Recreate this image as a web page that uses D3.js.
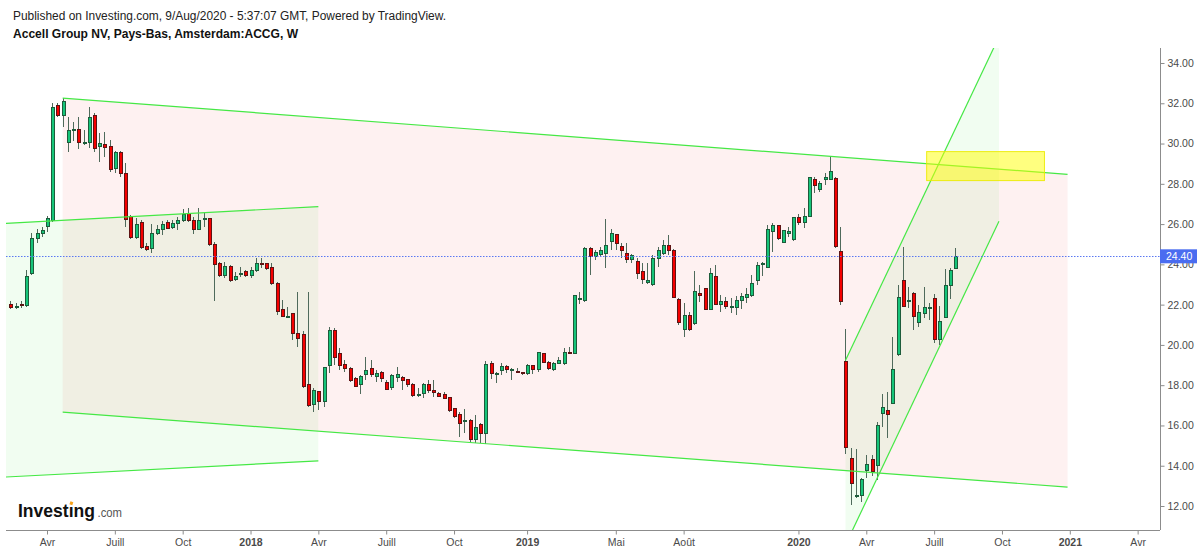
<!DOCTYPE html>
<html><head><meta charset="utf-8">
<script src="https://cdn.jsdelivr.net/npm/d3@7"></script>
<style>html,body{margin:0;padding:0;background:#fff;}svg{display:block;font-family:"Liberation Sans",Arial,sans-serif;}</style>
</head><body><svg id="c" width="1200" height="551"></svg>
<script>
// ---------- data ----------
const firstWeek = "2017-02-13"; // weekly bars (Mondays)
const open = [22.02,21.87,22.02,21.98,23.56,25.29,25.54,25.87,26.2,31.88,
31.37,30.04,30.69,30.72,30.05,30.06,31.4,29.85,29.93,29.85,
28.77,29.55,28.49,26.37,25.33,26.07,24.91,24.8,25.54,25.74,
26.07,25.82,26.04,26.2,26.54,26.2,25.74,26.27,26.29,25.01,
24.05,23.47,23.89,23.23,23.55,23.64,23.47,23.72,24.05,24.02,
23.85,23.06,21.77,21.40,21.54,20.58,20.5,18.05,17.05,17.68,
17.19,18.96,20.74,19.55,19.02,18.81,18.34,18.01,18.51,18.81,
18.43,18.64,18.13,17.9,18.39,18.38,18.26,18.05,17.51,17.6,
18.01,17.76,17.57,17.52,17.4,16.82,16.56,16.22,16.27,15.31,
16.03,15.61,19.09,18.58,18.72,18.92,18.75,18.67,18.64,18.59,
18.97,18.79,19.55,19.12,18.79,19.09,19.06,19.64,19.59,22.26,
22.2,24.77,24.39,24.47,24.52,25.13,25.46,24.91,24.55,24.25,
24.13,23.67,23.1,22.98,24.3,24.55,24.96,24.71,22.26,20.78,
21.44,21.04,22.56,22.81,21.77,23.39,22.03,22.15,21.89,21.85,
22.2,22.37,22.43,23.19,23.97,23.85,25.63,25.91,25.08,25.54,
25.21,26.34,26.07,26.4,28.19,27.7,28.22,28.22,28.27,24.63,
19.2,14.37,12.49,12.5,13.74,14.32,13.99,16.61,16.74,17.1,
19.53,23.18,22.19,22.53,21.11,21.57,21.86,22.32,20.28,21.37,
22.93,23.8];
const high = [22.18,22.07,22.2,23.72,25.54,25.74,25.87,26.4,32.03,32.03,
32.25,31.3,31.09,31.3,30.67,31.8,31.5,30.51,30.59,30.18,
29.63,29.63,29.02,26.45,26.29,26.2,25.05,26.0,25.96,26.15,
26.2,26.2,26.37,26.73,26.78,26.37,26.78,26.54,26.32,25.13,
24.14,24.14,23.97,23.64,23.89,23.72,23.89,24.3,24.3,24.09,
24.05,23.14,22.23,21.9,21.57,22.65,20.71,22.65,17.85,17.73,
18.92,20.88,20.83,19.83,19.25,18.92,18.43,18.51,19.42,19.25,
18.76,18.72,18.26,18.56,18.92,18.46,18.29,18.1,17.85,18.1,
18.26,18.26,17.68,17.68,17.43,16.85,16.69,16.8,16.31,16.52,
16.14,19.22,19.22,18.67,19.09,19.01,18.84,18.87,18.67,19.06,
19.01,19.67,19.59,19.22,19.17,19.39,19.83,19.92,22.48,22.65,
24.88,24.88,24.72,24.85,26.24,25.74,25.51,25.05,25.05,24.52,
24.3,24.05,24.05,24.47,24.85,25.21,25.46,24.75,22.31,22.07,
21.65,23.67,22.98,22.85,23.81,23.97,22.48,22.4,22.31,22.43,
22.6,22.81,23.47,24.14,24.14,25.96,26.04,25.96,25.71,25.87,
26.37,26.5,26.78,28.36,28.32,28.16,28.52,29.38,28.32,25.84,
20.78,14.87,14.82,13.38,14.54,14.54,16.19,17.57,17.68,20.38,
22.98,24.85,22.9,22.65,21.98,22.86,22.07,22.53,21.93,23.75,
23.81,24.8];
const low = [21.79,21.79,21.82,21.9,23.47,25.05,25.38,25.63,26.12,31.34,
30.84,29.6,30.14,29.71,29.93,29.76,29.6,29.1,29.35,28.6,
28.52,28.32,25.87,25.24,25.24,24.75,24.68,24.58,25.46,25.46,
25.74,25.74,25.71,26.12,26.12,25.49,25.71,25.87,24.91,22.18,
23.39,23.31,23.14,23.19,23.36,23.39,23.31,23.64,23.81,23.72,
22.98,21.49,21.37,21.35,20.25,19.92,17.85,16.94,16.69,16.77,
16.94,18.59,19.01,18.76,18.67,18.18,17.9,17.57,18.26,18.43,
18.18,18.18,17.76,17.76,18.18,17.76,17.93,17.43,17.43,17.35,
17.6,17.4,17.4,17.3,16.69,16.36,15.45,15.61,15.2,15.15,
15.15,15.08,18.29,18.1,18.51,18.59,18.26,18.59,18.51,18.51,
18.56,18.67,19.09,18.76,18.72,19.06,19.01,19.57,19.55,22.03,
22.15,23.47,24.22,24.38,23.8,24.72,24.72,24.3,24.09,24.05,
23.26,23.03,23.03,22.93,23.85,24.47,24.47,22.31,20.99,20.41,
20.71,20.99,22.15,21.74,21.74,21.98,21.65,21.77,21.57,21.49,
21.77,22.1,22.37,22.98,23.42,23.8,24.63,25.21,25.05,25.34,
25.18,25.96,25.79,26.34,27.56,27.61,27.94,28.19,24.8,21.98,
14.58,12.05,12.39,12.22,13.38,13.49,13.3,15.91,15.36,17.07,
19.45,21.87,21.82,20.74,20.91,21.32,21.24,20.11,20.0,21.32,
22.27,23.75];
const close = [21.87,21.92,21.95,23.39,25.29,25.51,25.67,26.27,31.8,31.37,
32.08,30.67,30.72,30.04,30.07,31.3,29.73,30.01,29.81,28.69,
29.55,28.49,26.25,25.34,26.0,24.83,24.75,25.54,25.71,25.99,
25.79,26.04,26.2,26.49,26.2,25.74,26.2,26.30,25.01,23.97,
23.47,23.89,23.19,23.39,23.57,23.47,23.72,24.02,23.97,23.80,
23.06,21.65,21.41,21.42,20.55,20.33,17.93,16.97,17.76,17.19,
18.89,20.74,19.39,18.96,18.81,18.23,17.93,18.43,18.72,18.51,
18.59,18.34,17.81,18.46,18.51,18.21,18.01,17.48,17.53,18.01,
17.73,17.63,17.43,17.35,16.74,16.44,16.11,16.24,15.28,15.91,
15.61,19.01,18.59,18.6,18.92,18.76,18.77,18.62,18.56,18.96,
18.76,19.62,19.12,18.84,19.06,19.25,19.62,19.6,22.45,22.28,
24.77,24.39,24.6,24.68,24.96,25.51,25.05,24.68,24.25,24.42,
23.56,23.26,23.18,24.3,24.71,24.96,24.68,22.36,21.11,21.44,
20.78,22.65,22.46,21.77,23.56,22.03,22.15,21.9,21.91,22.23,
22.4,22.48,23.06,23.92,24.05,25.74,25.91,25.29,25.68,25.63,
26.34,26.07,26.4,28.32,27.91,28.03,28.32,28.6,24.91,22.15,
14.92,13.1,12.51,13.3,14.04,13.71,15.98,16.9,16.52,18.76,
22.36,21.9,22.21,21.41,21.6,21.85,21.88,20.25,21.16,22.94,
23.69,24.40];

const yTicks = [12,14,16,18,20,22,24,26,28,30,32,34];
const xTickDates = ["2017-04-03","2017-07-03","2017-10-02","2018-01-01","2018-04-02","2018-07-02","2018-10-01","2019-01-07","2019-05-06","2019-08-05","2020-01-06","2020-04-06","2020-07-06","2020-10-05","2021-01-04","2021-04-05"];
const xTickLabels = ["Avr","Juill","Oct","2018","Avr","Juill","Oct","2019","Mai","Août","2020","Avr","Juill","Oct","2021","Avr"];
const lastPrice = 24.40;

// drawings (date, price)
const bigChannelDates = ["2017-04-24","2021-01-01"];
const bigChannelTop = [32.26, 28.47];
const bigChannelBottom = [16.66, 12.94];
const oldChannelDates = ["2017-02-07","2018-04-02"];
const oldChannelTop = [26.04, 26.87];
const oldChannelBottom = [13.44, 14.24];
const riseChannelDates = ["2020-03-09","2020-10-01"];
const riseChannelUpper = [19.22, 35.30];
const riseChannelLower = [10.06, 26.14];
const boxDates = ["2020-06-26","2020-12-01"];
const boxPrices = [29.60, 28.16];

// ---------- chart ----------
const svg = d3.select("#c");
const L = 6, R = 1160, T = 48, B = 530;
const pd = s => new Date(s + "T00:00:00Z");
const x = d3.scaleUtc().domain([pd("2017-02-07"), pd("2021-05-05")]).range([L, R]);
const y = d3.scaleLinear().domain([12, 34]).range([506, 63]);

const week0 = pd(firstWeek);
const bars = open.map((o, i) => ({
  d: d3.utcDay.offset(week0, 7 * i), o, h: high[i], l: low[i], c: close[i]
}));

// title
svg.append("text").attr("x", 13).attr("y", 19.5).attr("font-size", 12).attr("fill", "#222")
  .attr("textLength", 433).attr("lengthAdjust", "spacingAndGlyphs")
  .text("Published on Investing.com, 9/Aug/2020 - 5:37:07 GMT, Powered by TradingView.");
svg.append("text").attr("x", 13).attr("y", 38).attr("font-size", 12).attr("font-weight", "bold").attr("fill", "#111")
  .attr("textLength", 285).attr("lengthAdjust", "spacingAndGlyphs")
  .text("Accell Group NV, Pays-Bas, Amsterdam:ACCG, W");

svg.append("defs").append("clipPath").attr("id", "plot")
  .append("rect").attr("x", L).attr("y", T).attr("width", R - L).attr("height", B - T);
const g = svg.append("g").attr("clip-path", "url(#plot)");

const pink = "rgba(240,60,60,0.07)";
const green = "rgba(0,225,0,0.055)";
const lineCol = "#45e845";

function band(dates, a, b, fill) {
  const pts = [[pd(dates[0]), a[0]], [pd(dates[1]), a[1]], [pd(dates[1]), b[1]], [pd(dates[0]), b[0]]];
  g.append("path").attr("d", d3.line().x(p => x(p[0])).y(p => y(p[1]))(pts) + "Z").attr("fill", fill);
}
function seg(dates, v) {
  g.append("line").attr("x1", x(pd(dates[0]))).attr("y1", y(v[0]))
    .attr("x2", x(pd(dates[1]))).attr("y2", y(v[1]))
    .attr("stroke", lineCol).attr("stroke-width", 1.2);
}
band(bigChannelDates, bigChannelTop, bigChannelBottom, pink);
band(oldChannelDates, oldChannelTop, oldChannelBottom, green);
band(riseChannelDates, riseChannelUpper, riseChannelLower, green);

// candles
const cg = g.append("g").attr("shape-rendering", "crispEdges");
cg.selectAll("line.w").data(bars).join("line").attr("class", "w")
  .attr("x1", d => Math.round(x(d.d)) + 0.5).attr("x2", d => Math.round(x(d.d)) + 0.5)
  .attr("y1", d => y(d.h)).attr("y2", d => y(d.l))
  .attr("stroke", "#4f6a5b").attr("stroke-width", 1);
cg.selectAll("rect.b").data(bars).join("rect").attr("class", "b")
  .attr("x", d => Math.round(x(d.d)) - 1)
  .attr("width", 3)
  .attr("y", d => y(Math.max(d.o, d.c)))
  .attr("height", d => Math.max(1, Math.abs(y(d.o) - y(d.c))))
  .attr("fill", d => d.c >= d.o ? "#16c479" : "#f50000")
  .attr("stroke", d => d.c >= d.o ? "#1d5c3b" : "#5e1414").attr("stroke-width", 1);

// drawing lines
seg(bigChannelDates, bigChannelTop);
seg(bigChannelDates, bigChannelBottom);
seg(oldChannelDates, oldChannelTop);
seg(oldChannelDates, oldChannelBottom);
seg(riseChannelDates, riseChannelUpper);
seg(riseChannelDates, riseChannelLower);

// last price line
g.append("line").attr("x1", L).attr("x2", R).attr("y1", Math.round(y(lastPrice)) + 0.5).attr("y2", Math.round(y(lastPrice)) + 0.5)
  .attr("stroke", "#5b78f2").attr("stroke-width", 1).attr("stroke-dasharray", "1.5,1.5");

// yellow box
g.append("rect").attr("x", x(pd(boxDates[0]))).attr("y", y(boxPrices[0]))
  .attr("width", x(pd(boxDates[1])) - x(pd(boxDates[0])))
  .attr("height", y(boxPrices[1]) - y(boxPrices[0]))
  .attr("fill", "rgba(255,255,0,0.5)").attr("stroke", "rgba(235,235,0,0.9)").attr("stroke-width", 1);

// axes
const axCol = "#8c8c8c";
const yAxis = svg.append("g").attr("transform", `translate(${R + 0.5},0)`)
  .call(d3.axisRight(y).tickValues(yTicks).tickSize(4).tickPadding(3).tickFormat(d3.format(".2f")));
yAxis.select(".domain").attr("d", `M0,${T}V${B}`).attr("stroke", axCol);
yAxis.selectAll(".tick line").attr("stroke", axCol);
yAxis.selectAll(".tick text").attr("fill", "#4a4a4a").attr("font-size", 10.5)
  .attr("font-family", "'Liberation Sans',Arial,sans-serif");

const xAxis = svg.append("g").attr("transform", `translate(0,${B + 0.5})`)
  .call(d3.axisBottom(x).tickValues(xTickDates.map(pd)).tickSize(4).tickPadding(4)
    .tickFormat((d, i) => xTickLabels[i]));
xAxis.select(".domain").attr("d", `M${L},0H${R}`).attr("stroke", axCol);
xAxis.selectAll(".tick line").attr("stroke", axCol);
xAxis.selectAll(".tick text").attr("fill", "#4a4a4a").attr("font-size", 10.5)
  .attr("font-family", "'Liberation Sans',Arial,sans-serif")
  .attr("font-weight", (d, i) => /^\d{4}$/.test(xTickLabels[i]) ? "bold" : "normal");

// last price label (covers the 24.00 tick label as in the original)
const ly = y(lastPrice);
svg.append("rect").attr("x", R).attr("y", ly - 7).attr("width", 37).attr("height", 14).attr("fill", "#4a6cf0");
svg.append("text").attr("x", R + 6).attr("y", ly).attr("dy", "0.35em").attr("fill", "#fff")
  .attr("font-size", 10.5).text(d3.format(".2f")(lastPrice));

// logo (one text element, two spans)
const logo = svg.append("g");
const lt = logo.append("text").attr("x", 18).attr("y", 517);
const t1 = lt.append("tspan").attr("font-size", 19).attr("font-weight", "bold").attr("fill", "#111")
  .attr("textLength", 77).attr("lengthAdjust", "spacingAndGlyphs").text("Invest\u0131ng");
lt.append("tspan").attr("dx", 2.5).attr("font-size", 12.5).attr("fill", "#555")
  .attr("textLength", 24.5).attr("lengthAdjust", "spacingAndGlyphs").text(".com");
try {
  const ext = lt.node().getExtentOfChar(6);
  logo.append("rect").attr("x", ext.x + ext.width / 2 - 1.2).attr("y", 517 - 15.5)
    .attr("width", 3).attr("height", 3.2).attr("fill", "#f7a21b")
    .attr("transform", `rotate(20,${ext.x + ext.width / 2},${517 - 14})`);
} catch (e) {}
</script></body></html>
